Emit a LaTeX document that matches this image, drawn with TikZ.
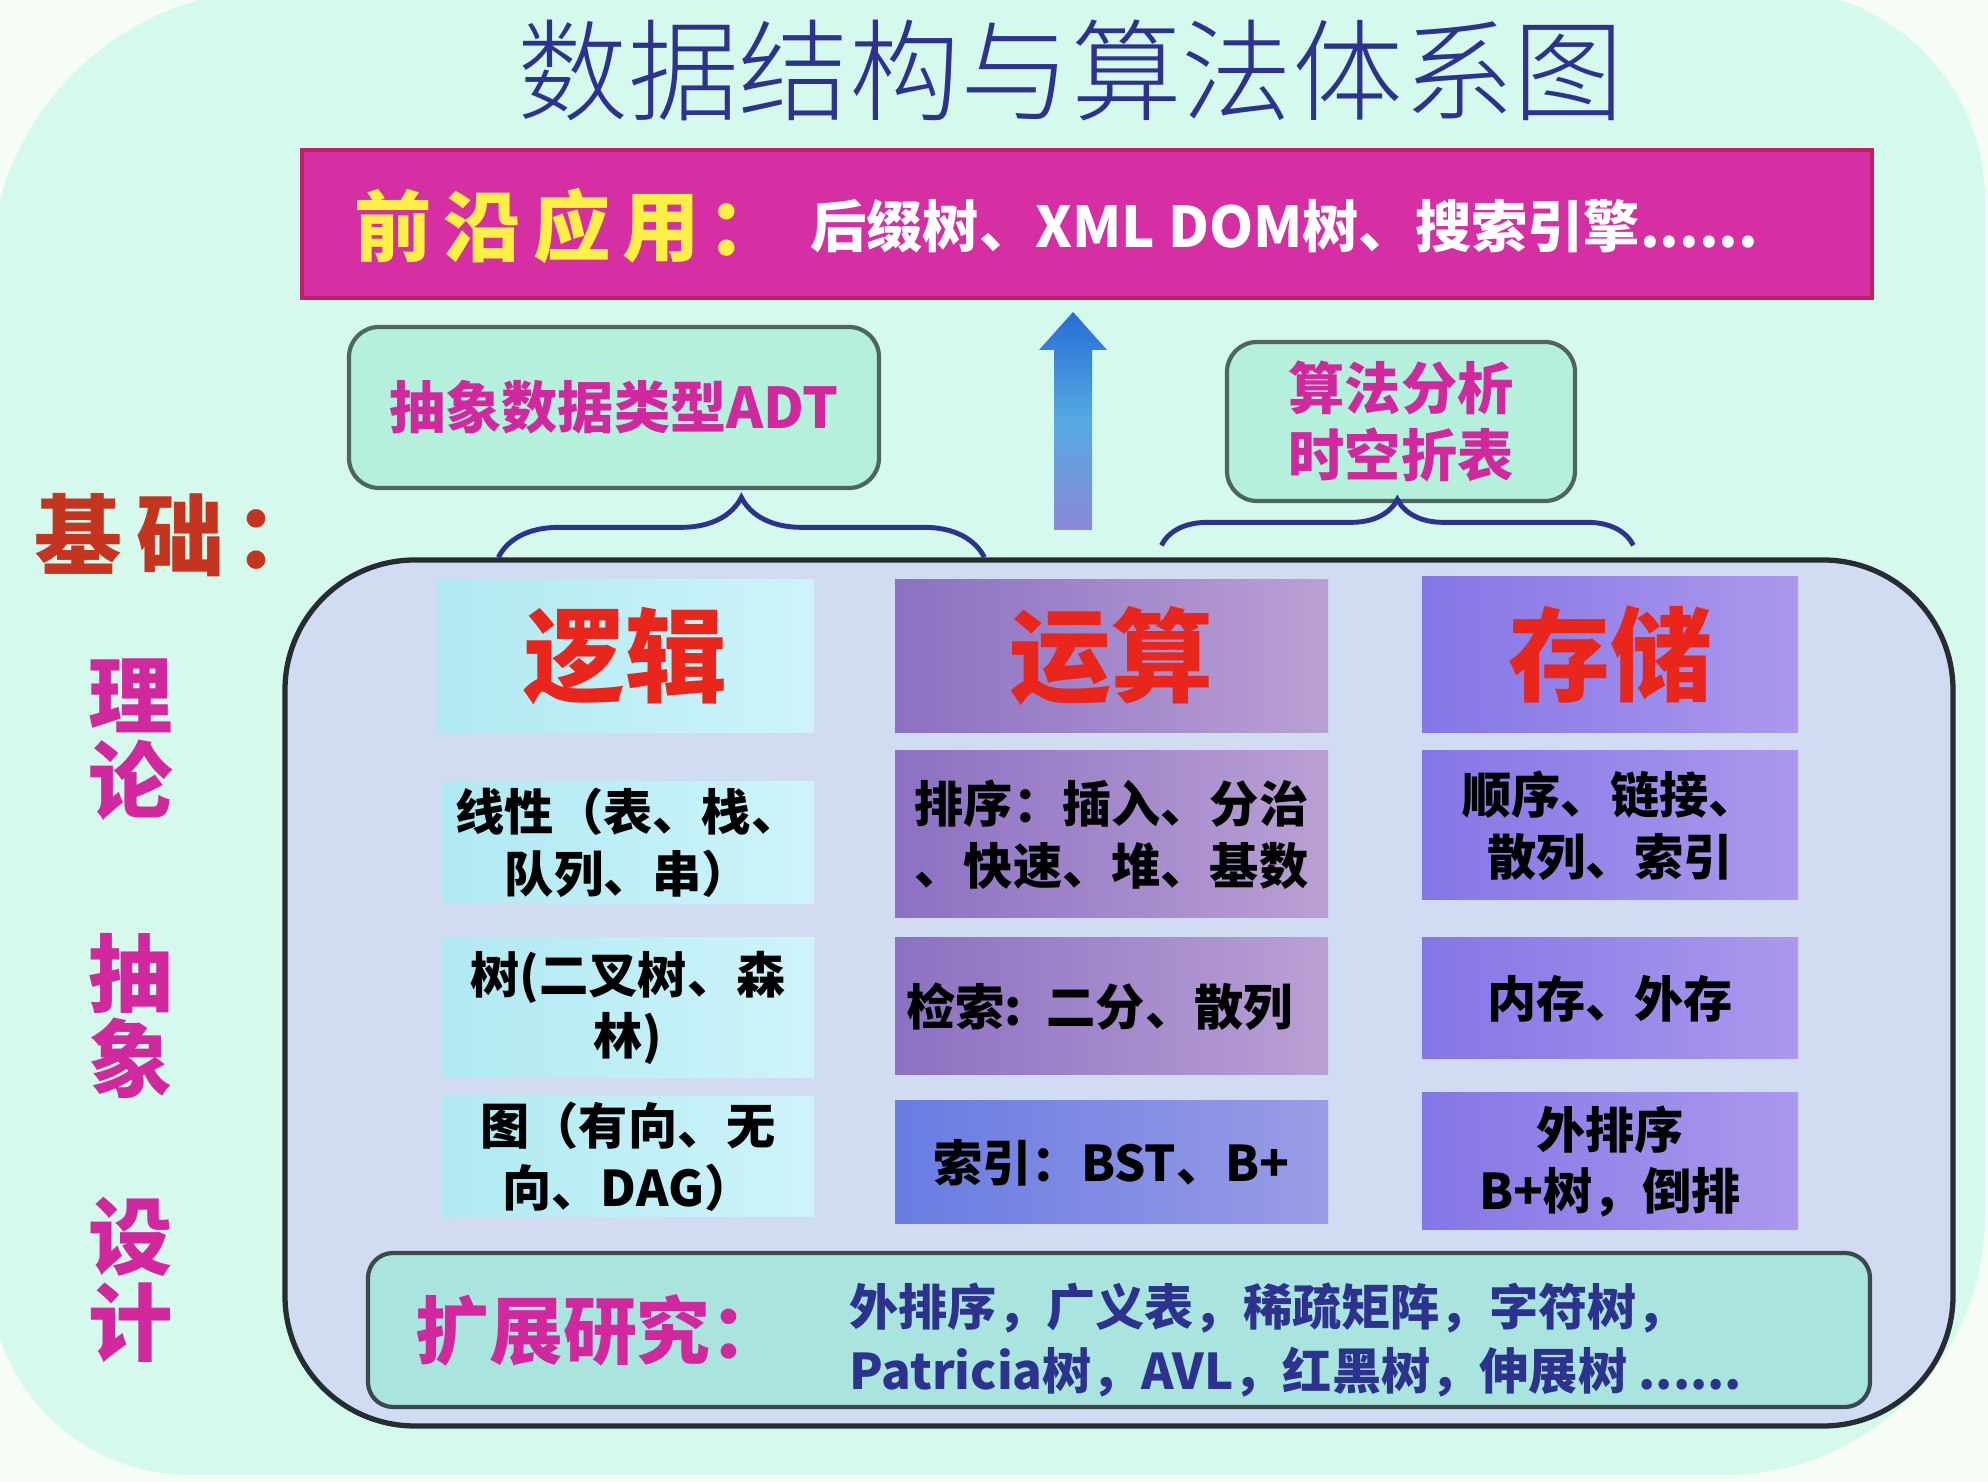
\documentclass[tikz,border=0pt]{standalone}
\usepackage{fontspec}
\setmainfont{Noto Sans CJK SC}
\newfontfamily\titlefont{Noto Sans CJK SC}[UprightFont=* Light]
\usepackage{xcolor}
\usepackage{tikz}
\usetikzlibrary{positioning,decorations.pathreplacing,shadings}

\definecolor{bgout}{RGB}{246,252,246}
\definecolor{mint}{RGB}{214,249,237}
\definecolor{navy}{RGB}{44,50,142}
\definecolor{appmag}{RGB}{213,47,163}
\definecolor{appbd}{RGB}{196,30,100}
\definecolor{appyel}{RGB}{252,240,70}
\definecolor{pinktx}{RGB}{210,40,158}
\definecolor{basered}{RGB}{196,52,30}
\definecolor{boxgrn}{RGB}{180,240,220}
\definecolor{boxbd}{RGB}{80,100,96}
\definecolor{mainfill}{RGB}{209,220,243}
\definecolor{mainbd}{RGB}{38,44,48}
\definecolor{hdred}{RGB}{232,38,28}
\definecolor{cyA}{RGB}{176,233,242}
\definecolor{cyB}{RGB}{206,244,250}
\definecolor{vpA}{RGB}{140,112,194}
\definecolor{vpB}{RGB}{186,160,212}
\definecolor{blA}{RGB}{104,124,226}
\definecolor{blB}{RGB}{154,156,230}
\definecolor{svA}{RGB}{132,118,230}
\definecolor{svB}{RGB}{172,152,236}
\definecolor{extfill}{RGB}{170,228,222}
\definecolor{extbd}{RGB}{60,72,76}
\definecolor{arrA}{RGB}{40,108,214}
\definecolor{arrB}{RGB}{84,170,226}
\definecolor{arrC}{RGB}{140,136,216}

\begin{document}
\begin{tikzpicture}[
  gbox/.style={draw=boxbd,line width=1.2pt,rounded corners=0.3cm,fill=boxgrn,text=pinktx,align=center,font=\fontsize{16}{19}\selectfont\bfseries},
  head/.style={inner sep=0pt,text=hdred,font=\fontsize{29}{34}\selectfont\bfseries},
  cell/.style={inner sep=0pt,align=center,font=\fontsize{14}{17.6}\selectfont\bfseries},
  lcol/.style={cell,left color=cyA,right color=cyB,minimum width=3.72cm},
  ocol/.style={cell,left color=vpA,right color=vpB,minimum width=4.33cm},
  scol/.style={cell,left color=svA,right color=svB,minimum width=3.76cm},
  side/.style={text=pinktx,align=center,font=\fontsize{24}{24.2}\selectfont\bfseries},
  brc/.style={draw=navy,line width=1.4pt,decorate}
]
\useasboundingbox (0,0) rectangle (19.88,-14.82);
\fill[bgout] (0,0) rectangle (19.88,-14.82);
\fill[mint] (-0.1,-2.75) arc[start angle=180,end angle=90,radius=2.85] -- (17.75,0.1)
  arc[start angle=90,end angle=0,radius=2.1] -- (19.85,-12.15)
  arc[start angle=0,end angle=-90,radius=2.6] -- (1.9,-14.75)
  arc[start angle=270,end angle=180,radius=2] -- cycle;

\node[text=navy,font=\fontsize{31.5}{36}\titlefont] (title) at (10.71,-0.70) {数据结构与算法体系图};
\node[fill=appmag,draw=appbd,line width=1pt,minimum width=15.7cm,minimum height=1.48cm] (app) at (10.87,-2.24) {};
\node[anchor=west,text=appyel,font=\fontsize{22}{26}\selectfont\bfseries] (appl) at (3.42,-2.26) {前\hspace{0.12cm}沿\hspace{0.12cm}应\hspace{0.12cm}用\hspace{0.08cm}：};
\node[anchor=west,text=white,font=\fontsize{16}{20}\selectfont\bfseries] (appt) at (7.98,-2.26) {后缀树、XML DOM树、搜索引擎......};

\node[gbox,minimum width=5.3cm,minimum height=1.61cm] (adt) at (6.14,-4.075) {抽象数据类型ADT};
\node[gbox,minimum width=3.48cm,minimum height=1.59cm] (ana) at (14.01,-4.215) {算法分析\\时空折表};
\node[draw=mainbd,line width=1.5pt,fill=mainfill,rounded corners=1.3cm,minimum width=16.68cm,minimum height=8.66cm] (main) at (11.19,-9.93) {};

\shade[top color=arrA,bottom color=arrC,middle color=arrB] (10.54,-5.30) -- (10.54,-3.50) -- (10.39,-3.50) -- (10.73,-3.12) -- (11.07,-3.50) -- (10.92,-3.50) -- (10.92,-5.30) -- cycle;
\draw[brc,decoration={brace,amplitude=0.6cm}] ([xshift=2.16cm]main.north west) -- ([xshift=7.02cm]main.north west);
\draw[brc,decoration={brace,amplitude=0.46cm}] ([xshift=8.79cm,yshift=0.12cm]main.north west) -- ([xshift=13.51cm,yshift=0.12cm]main.north west);

\node[anchor=west,text=basered,font=\fontsize{25}{28}\selectfont\bfseries] (base) at (0.22,-5.35) {基\hspace{0.14cm}础\hspace{0.1cm}：};
\node[side] (th) at (1.31,-7.40) {理\\论};
\node[side] (ab) at (1.31,-10.16) {抽\\象};
\node[side] (de) at (1.31,-12.80) {设\\计};

\node[head,left color=cyA,right color=cyB,minimum width=3.77cm,minimum height=1.53cm] (hl) at (6.255,-6.565) {逻辑};
\node[head,left color=vpA,right color=vpB,minimum width=4.33cm,minimum height=1.53cm] (ho) at (11.115,-6.565) {运算};
\node[head,left color=svA,right color=svB,minimum width=3.76cm,minimum height=1.56cm] (hs) at (16.10,-6.55) {存储};

\node[lcol,minimum height=1.22cm] (l1) at (6.28,-8.43) {线性（表、栈、\\队列、串）};
\node[lcol,minimum height=1.40cm] (l2) at (6.28,-10.08) {树(二叉树、森\\林)};
\node[lcol,minimum height=1.20cm] (l3) at (6.28,-11.57) {图（有向、无\\向、DAG）};
\node[ocol,minimum height=1.67cm] (o1) at (11.115,-8.345) {排序：插入、分治\\、快速、堆、基数};
\node[ocol,minimum height=1.37cm,text width=4.1cm,align=left] (o2) at (11.115,-10.065) {检索: 二分、散列};
\node[ocol,left color=blA,right color=blB,minimum height=1.23cm] (o3) at (11.115,-11.625) {索引：BST、B+};
\node[scol,minimum height=1.49cm] (s1) at (16.10,-8.255) {顺序、链接、\\散列、索引};
\node[scol,minimum height=1.21cm] (s2) at (16.10,-9.985) {内存、外存};
\node[scol,minimum height=1.37cm] (s3) at (16.10,-11.615) {外排序\\B+树，倒排};

\node[draw=extbd,line width=1.2pt,fill=extfill,rounded corners=0.25cm,minimum width=15.02cm,minimum height=1.54cm] (ext) at (11.19,-13.30) {};
\node[anchor=west,text=pinktx,font=\fontsize{21}{24}\selectfont\bfseries] (extl) at (4.03,-13.30) {扩展研究：};
\node[anchor=west,align=left,text=navy,font=\fontsize{14}{18.2}\selectfont\bfseries] (extt) at (8.37,-13.40) {外排序，广义表，稀疏矩阵，字符树，\\Patricia树，AVL，红黑树，伸展树 ......};
\end{tikzpicture}
\end{document}
